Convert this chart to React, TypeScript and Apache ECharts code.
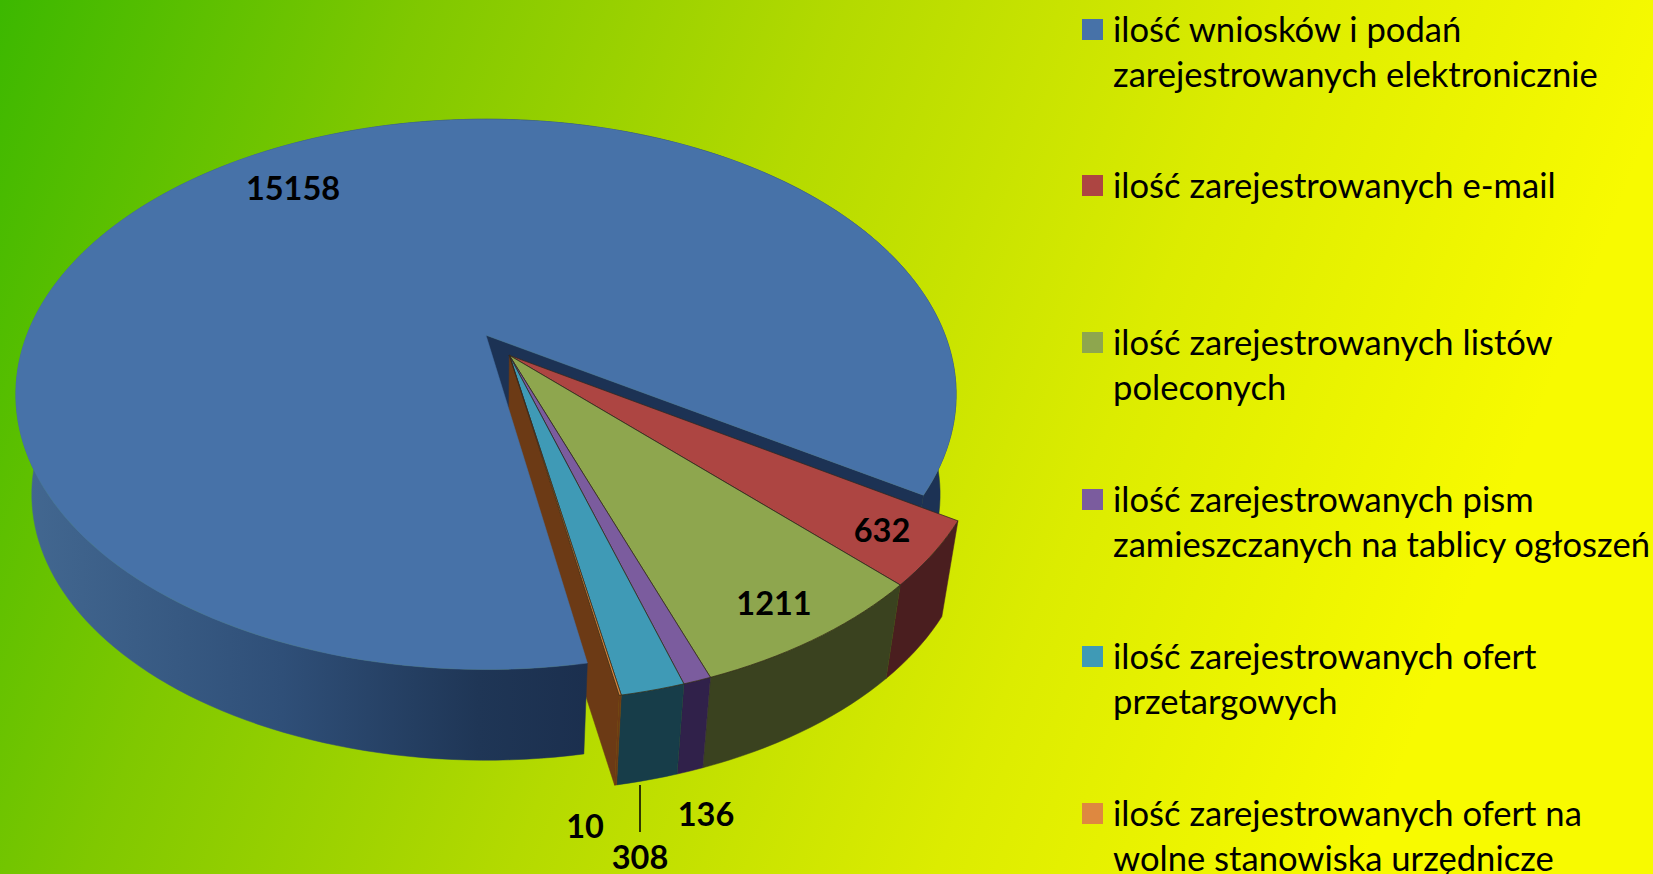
import React, { useEffect, useRef } from "react";
import * as echarts from "echarts";

// ---- data ----
const categories = [
  "ilość wniosków i podań\nzarejestrowanych elektronicznie",
  "ilość zarejestrowanych e-mail",
  "ilość zarejestrowanych listów\npoleconych",
  "ilość zarejestrowanych pism\nzamieszczanych na tablicy ogłoszeń",
  "ilość zarejestrowanych ofert\nprzetargowych",
  "ilość zarejestrowanych ofert na\nwolne stanowiska urzędnicze",
];
const values = [15158, 632, 1211, 136, 308, 10];

// ---- styles ----
const topColors = ["#4772a8", "#ad4542", "#8ea64e", "#7b5c9e", "#3f9ab6", "#de8840"];
const sideColors = ["#2c4a74", "#4a1e1f", "#3a421f", "#30214a", "#173d49", "#6c3a15"];
const NAVY = "#1c3254";
const BROWN = "#6c3a15";
const EDGE = "rgba(50,40,30,0.75)";

// ---- layout: perspective disc ----
const W = 1653;
const H = 874;
const OX = 486;
const OY = 335.3;
const A = 459.2;
const B = 262.5;
const K = 0.2146;
const VX = 484;
const VY = 3337;
const SCALE = 0.966;
const START_ANGLE = 32.6;
const BACK_SPLIT = 270;
const GROUP_SHIFT: [number, number] = [0.05, 0.075];
const labelAt = [
  [293, 187],
  [882, 529],
  [774, 602],
  [706, 813],
  [640, 856],
  [585, 825],
];
const LEADER = [640, 785, 640, 832];
const legendX = 1082;
const legendTextX = 1113;
const legendY = [28, 184, 341, 498, 655, 812];
const SWATCH_DY = 1.5;
const LEGEND_FONT = 34.6;
const LEGEND_LINE = 45;
const SWATCH = 21;

// ---- geometry ----
const total = values.reduce((a, b) => a + b, 0);
const drawOrder = [1, 2, 3, 4, 5, 0];
const ranges: [number, number][] = [];
{
  let a = START_ANGLE;
  for (const i of drawOrder) {
    const sweep = (values[i] / total) * 360;
    ranges[i] = [a, a + sweep];
    a += sweep;
  }
}

function top(u: number, v: number): [number, number] {
  const w = 1 - K * v;
  return [OX + (A * u) / w, OY + (B * v) / w];
}
function down(p: [number, number]): [number, number] {
  return [VX + SCALE * (p[0] - VX), VY + SCALE * (p[1] - VY)];
}
function rim(a0: number, a1: number, shift: [number, number]) {
  const n = Math.max(2, Math.ceil(Math.abs(a1 - a0) / 1.5) + 1);
  const pts: [number, number][] = [];
  for (let i = 0; i < n; i++) {
    const t = ((a0 + ((a1 - a0) * i) / (n - 1)) * Math.PI) / 180;
    pts.push(top(Math.cos(t) + shift[0], Math.sin(t) + shift[1]));
  }
  return pts;
}
function poly(points: [number, number][], fill: any, stroke?: string) {
  return {
    type: "polygon",
    shape: { points },
    style: { fill, stroke: stroke || fill, lineWidth: stroke ? 1 : 0.5 },
  };
}
function band(a0: number, a1: number, shift: [number, number], fill: any) {
  const edge = rim(a0, a1, shift);
  return poly([...edge, ...edge.map(down).reverse()], fill);
}

const NO_SHIFT: [number, number] = [0, 0];

function renderBack() {
  // what the small slices pass in front of: the cut face and back side of the large slice
  const [, end] = ranges[0];
  const apex = top(0, 0);
  const outer = rim(end, end, NO_SHIFT)[0];
  return {
    type: "group",
    children: [
      band(BACK_SPLIT, end, NO_SHIFT, NAVY),
      poly([apex, outer, down(outer), down(apex)], NAVY),
    ],
  };
}

function renderSlice(params: any) {
  const i = drawOrder[params.dataIndex];
  const [a0, a1] = ranges[i];
  const shift = i === 0 ? NO_SHIFT : GROUP_SHIFT;
  const apex = top(shift[0], shift[1]);
  const edge = rim(a0, a1, shift);
  const children: any[] = [];

  if (i === 5) {
    // left cut face of the small group
    const outer = edge[edge.length - 1];
    children.push(poly([apex, outer, down(outer), down(apex)], BROWN));
  }
  if (i === 0) {
    const fill = new echarts.graphic.LinearGradient(
      30,
      0,
      590,
      0,
      [
        { offset: 0, color: "#426790" },
        { offset: 0.45, color: "#2f4f78" },
        { offset: 0.8, color: "#1f3656" },
        { offset: 1, color: "#1b2f4e" },
      ],
      true
    );
    children.push(band(a0, BACK_SPLIT, NO_SHIFT, fill));
    children.push(poly([apex, ...edge], topColors[0]));
  } else {
    children.push(band(a0, a1, shift, sideColors[i]));
    children.push(poly([apex, ...edge], topColors[i], EDGE));
  }
  const [lx, ly] = labelAt[i];
  children.push({
    type: "text",
    style: {
      text: String(values[i]),
      x: lx,
      y: ly,
      align: "center",
      verticalAlign: "middle",
      font: "bold 32.5px Lato, sans-serif",
      fill: "#000",
    },
  });
  return { type: "group", children };
}

export default function App() {
  const ref = useRef<HTMLDivElement>(null);
  useEffect(() => {
    const chart = echarts.init(ref.current!, undefined, { renderer: "svg" });
    chart.setOption({
      animation: false,
      backgroundColor: {
        type: "linear",
        x: 0,
        y: 0,
        x2: 1476,
        y2: 575,
        global: true,
        colorStops: [
          { offset: 0, color: "#3cb800" },
          { offset: 0.25, color: "#80c800" },
          { offset: 0.5, color: "#b4da00" },
          { offset: 0.75, color: "#dcec00" },
          { offset: 1, color: "#f8fa00" },
        ],
      },
      series: [
        {
          type: "custom",
          name: "back",
          coordinateSystem: "none",
          silent: true,
          data: [values[0]],
          renderItem: renderBack,
        },
        {
          type: "custom",
          name: "slices",
          coordinateSystem: "none",
          silent: true,
          data: drawOrder.map((i) => values[i]),
          renderItem: renderSlice,
        },
      ],
      graphic: [
        {
          type: "line",
          shape: { x1: LEADER[0], y1: LEADER[1], x2: LEADER[2], y2: LEADER[3] },
          style: { stroke: "#000", lineWidth: 1.5 },
        },
        ...categories.flatMap((name, i) => {
          const lines = name.split("\n").length;
          return [
            {
              type: "rect",
              shape: { x: legendX, y: legendY[i] + SWATCH_DY - SWATCH / 2, width: SWATCH, height: SWATCH },
              style: { fill: topColors[i] },
            },
            {
              type: "text",
              style: {
                text: name,
                x: legendTextX,
                y: legendY[i] + ((lines - 1) * LEGEND_LINE) / 2,
                align: "left",
                verticalAlign: "middle",
                lineHeight: LEGEND_LINE,
                font: `${LEGEND_FONT}px Lato, sans-serif`,
                fill: "#000",
              },
            },
          ];
        }),
      ],
    });
    return () => chart.dispose();
  }, []);
  return (
    <div
      ref={ref}
      style={{ position: "fixed", left: 0, top: 0, width: W, height: H }}
    />
  );
}
